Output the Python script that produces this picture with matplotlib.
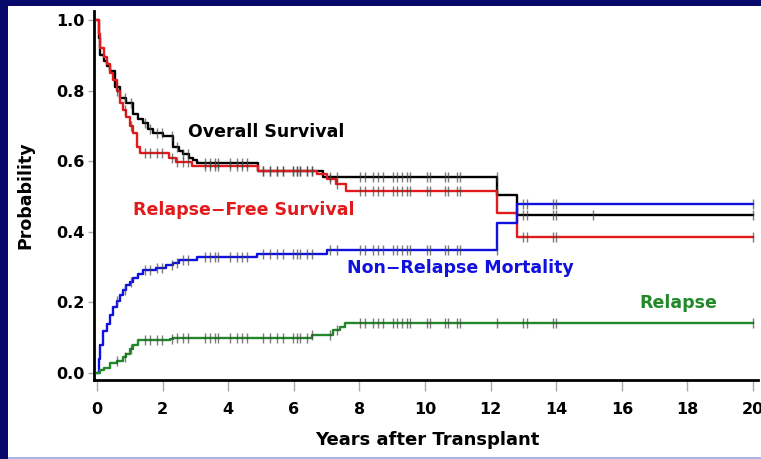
import matplotlib
matplotlib.use('Agg')
import matplotlib.pyplot as plt
import numpy as np
from matplotlib.patches import Rectangle

# step curves (years, probability)
os_t = [0, 0.05, 0.1, 0.2, 0.3, 0.4, 0.55, 0.7, 0.9, 1.1, 1.25, 1.41, 1.55, 1.72, 2.02, 2.33, 2.5, 2.63, 2.8, 2.94, 3.05, 4.9, 6.9, 12.2, 12.8, 20]
os_s = [1.0, 0.95, 0.9, 0.885, 0.87, 0.855, 0.81, 0.78, 0.764, 0.735, 0.72, 0.707, 0.69, 0.68, 0.67, 0.64, 0.63, 0.62, 0.61, 0.603, 0.595, 0.572, 0.556, 0.503, 0.448, 0.448]

rfs_t = [0, 0.05, 0.1, 0.2, 0.3, 0.4, 0.5, 0.6, 0.7, 0.8, 0.9, 1.0, 1.1, 1.21, 1.31, 2.2, 2.4, 2.9, 4.9, 6.7, 7.0, 7.3, 7.6, 12.2, 12.8, 20]
rfs_s = [1.0, 0.96, 0.92, 0.895, 0.875, 0.85, 0.83, 0.8, 0.764, 0.745, 0.726, 0.7, 0.68, 0.64, 0.622, 0.608, 0.598, 0.585, 0.573, 0.563, 0.55, 0.535, 0.516, 0.452, 0.385, 0.385]

nrm_t = [0, 0.05, 0.1, 0.19, 0.3, 0.4, 0.5, 0.6, 0.7, 0.8, 0.9, 1.0, 1.1, 1.25, 1.41, 1.8, 2.1, 2.33, 2.5, 3.04, 4.87, 7.0, 12.2, 12.8, 20]
nrm_s = [0, 0.04, 0.08, 0.12, 0.14, 0.165, 0.188, 0.205, 0.22, 0.235, 0.25, 0.258, 0.268, 0.28, 0.292, 0.298, 0.305, 0.312, 0.32, 0.328, 0.336, 0.348, 0.425, 0.48, 0.48]

rel_t = [0, 0.1, 0.2, 0.4, 0.6, 0.8, 0.9, 1.0, 1.1, 1.26, 2.23, 2.33, 6.55, 7.2, 7.4, 7.56, 20]
rel_s = [0, 0.008, 0.015, 0.027, 0.035, 0.046, 0.055, 0.068, 0.08, 0.093, 0.097, 0.1, 0.108, 0.122, 0.13, 0.142, 0.142]

# censoring times
censor_t = [0.62, 0.85, 1.05, 1.46, 1.62, 1.82, 1.97, 2.28, 2.43, 2.63, 2.78, 3.29, 3.44, 3.6, 3.7,
            4.05, 4.26, 4.41, 4.56, 5.07, 5.27, 5.48, 5.68, 5.99, 6.09, 6.19, 6.39, 6.55, 7.1, 7.31,
            8.02, 8.17, 8.42, 8.58, 8.73, 9.03, 9.14, 9.29, 9.44, 9.54, 10.05, 10.15, 10.61, 10.71,
            10.97, 11.07, 12.18, 13.0, 13.1, 13.9, 14.0, 20.0]
os_extra_censor = [15.13]

curves = [
    (os_t, os_s, 'black', 'Overall Survival', 2.77, 0.683),
    (rfs_t, rfs_s, '#e31a1c', 'Relapse\u2212Free Survival', 1.1, 0.462),
    (nrm_t, nrm_s, '#1010e0', 'Non\u2212Relapse Mortality', 7.62, 0.297),
    (rel_t, rel_s, '#22882a', 'Relapse', 16.55, 0.198),
]


def value_at(t, s, x):
    i = np.searchsorted(t, x, side='right') - 1
    return np.asarray(s)[i]


fig = plt.figure(figsize=(7.61, 4.59), dpi=100)
fig.patch.set_facecolor('#08086a')
fig.patches.append(Rectangle((8 / 761, 2 / 459), 1, 1 - 8 / 459, transform=fig.transFigure,
                             facecolor='white', edgecolor='none', zorder=-10))
fig.patches.append(Rectangle((8 / 761, 0), 1, 2 / 459, transform=fig.transFigure,
                             facecolor='#a9b4e6', edgecolor='none', zorder=-10))

ax = fig.add_axes([94 / 761, 79 / 459, 0.8725, 0.8035])
ax.patch.set_alpha(0)

for t, s, c, label, lx, ly in curves:
    ax.plot(t, s, drawstyle='steps-post', color=c, lw=1.7, zorder=3)
    ct = list(censor_t)
    if c == 'black':
        ct = ct + os_extra_censor
    ct = np.array(ct)
    ax.plot(ct, value_at(t, s, ct), ls='none', marker='|', ms=7.5, mew=1.0,
            color='#444444', alpha=0.7, zorder=4)
    ax.text(lx, ly, label, color=c, fontsize=12.5, fontweight='bold', va='center', ha='left')

ax.set_xlim(-0.09, 20.15)
ax.set_ylim(-0.02, 1.025)
ax.set_xticks(np.arange(0, 21, 2))
ax.set_yticks(np.arange(0, 1.01, 0.2))
ax.set_yticklabels(['0.0', '0.2', '0.4', '0.6', '0.8', '1.0'])
for sp in ['top', 'right']:
    ax.spines[sp].set_visible(False)
for sp in ['left', 'bottom']:
    ax.spines[sp].set_linewidth(2)
ax.tick_params(axis='x', length=8, width=1, color='#aaaaaa', pad=8, labelsize=11.5)
ax.tick_params(axis='y', length=4, width=1, color='#aaaaaa', pad=3, labelsize=11.5)
for lab in ax.get_xticklabels() + ax.get_yticklabels():
    lab.set_fontweight('bold')

fig.text(427 / 761, 1 - 440 / 459, 'Years after Transplant', ha='center', va='center',
         fontsize=13, fontweight='bold')
fig.text(25 / 761, 1 - 195 / 459, 'Probability', ha='center', va='center', rotation=90,
         fontsize=12.5, fontweight='bold')

fig.savefig('out.png', dpi=100, facecolor=fig.get_facecolor())
